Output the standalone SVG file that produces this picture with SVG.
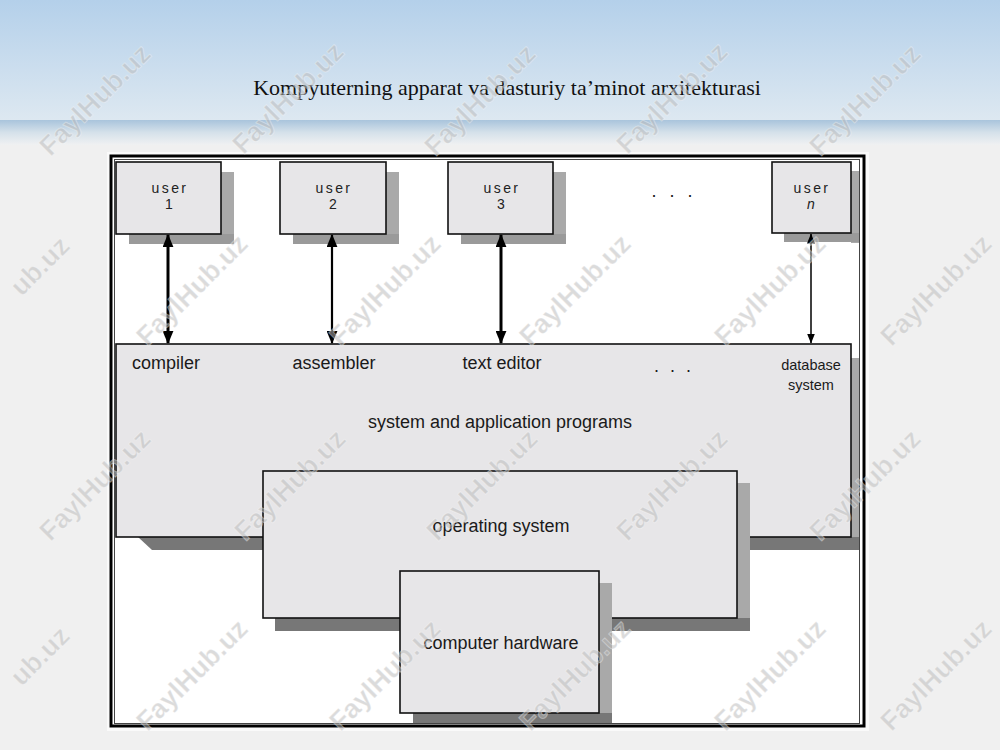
<svg xmlns="http://www.w3.org/2000/svg" width="1000" height="750" viewBox="0 0 1000 750">
<style>
.box{fill:#e7e6e8;stroke:#111;stroke-width:1.6}
.shb{fill:#777}
.shr{fill:#a9a9a9}
.lbl{font-family:"Liberation Sans",Arial,sans-serif;font-size:18px;fill:#1a1a1a;text-anchor:middle}
.usr{font-family:"Liberation Sans",Arial,sans-serif;font-size:14px;fill:#222;text-anchor:middle;letter-spacing:2.4px}
.title{font-family:"Liberation Serif","Times New Roman",serif;font-size:22px;fill:#111;text-anchor:middle}
.conn{stroke:#000;fill:none}
.wm{font-family:"Liberation Sans",Arial,sans-serif;font-size:27px;font-weight:bold;fill:#b8b8b8;fill-opacity:0.5;stroke:#fff;stroke-opacity:0.35;stroke-width:1;text-anchor:middle}
</style>
<defs>
<linearGradient id="sky" x1="0" y1="0" x2="0" y2="1">
<stop offset="0" stop-color="#b4d0ea"/>
<stop offset="1" stop-color="#dde8f1"/>
</linearGradient>
<linearGradient id="sea" x1="0" y1="0" x2="0" y2="1">
<stop offset="0" stop-color="#a9c4dc"/>
<stop offset="0.5" stop-color="#d5e1ea"/>
<stop offset="1" stop-color="#f0f1f2"/>
</linearGradient>
<clipPath id="inner"><rect x="115" y="160" width="744" height="563"/></clipPath>
<marker id="ah" viewBox="0 0 12 10" refX="11" refY="5" markerWidth="13" markerHeight="11" markerUnits="userSpaceOnUse" orient="auto-start-reverse"><path d="M0,0 L12,5 L0,10 z" fill="#000"/></marker>
<marker id="ahs" viewBox="0 0 10 8" refX="9.5" refY="4" markerWidth="10" markerHeight="8" markerUnits="userSpaceOnUse" orient="auto-start-reverse"><path d="M0,0 L10,4 L0,8 z" fill="#000"/></marker>
</defs>

<g id="background">
<rect x="0" y="0" width="1000" height="120" fill="url(#sky)"/>
<rect x="0" y="120" width="1000" height="25" fill="url(#sea)"/>
<rect x="0" y="145" width="1000" height="605" fill="#f0f0f0"/>
</g>

<text id="title" class="title" x="507" y="95">Kompyuterning apparat va dasturiy ta’minot arxitekturasi</text>

<g id="frame">
<rect x="107" y="152" width="762" height="579" fill="#fafafa"/>
<rect x="111" y="156" width="753" height="570" fill="#fff" stroke="#000" stroke-width="3"/>
<rect x="114.5" y="159.5" width="745" height="564" fill="#fff" stroke="#444" stroke-width="1"/>
</g>

<g id="user1">
<rect class="shr" x="221" y="172" width="13" height="72" clip-path="url(#inner)"/>
<rect class="shr" x="129" y="234" width="105" height="10" clip-path="url(#inner)" style="fill:#9a9a9a"/>
<rect class="box" x="116" y="162" width="105" height="72"/>
<text class="usr" x="170" y="193">user</text>
<text class="usr" x="170" y="209">1</text>
</g>

<g id="user2">
<rect class="shr" x="386" y="172" width="13" height="72" clip-path="url(#inner)"/>
<rect class="shr" x="293" y="234" width="106" height="10" style="fill:#9a9a9a"/>
<rect class="box" x="280" y="162" width="106" height="72"/>
<text class="usr" x="334" y="193">user</text>
<text class="usr" x="334" y="209">2</text>
</g>

<g id="user3">
<rect class="shr" x="553" y="172" width="13" height="72"/>
<rect class="shr" x="461" y="234" width="105" height="10" style="fill:#9a9a9a"/>
<rect class="box" x="448" y="162" width="105" height="72"/>
<text class="usr" x="502" y="193">user</text>
<text class="usr" x="502" y="209">3</text>
</g>

<g id="users-more">
<text class="lbl" x="674" y="197" style="letter-spacing:4px">. . .</text>
</g>

<g id="usern">
<rect class="shr" x="851" y="171" width="13" height="72" clip-path="url(#inner)"/>
<rect class="shr" x="784" y="233" width="80" height="9" clip-path="url(#inner)" style="fill:#9a9a9a"/>
<rect class="box" x="772" y="162" width="79" height="71"/>
<text class="usr" x="812" y="193">user</text>
<text class="usr" x="812" y="209" style="font-style:italic">n</text>
</g>

<g id="programs">
<rect class="shr" x="851" y="358" width="13" height="192" clip-path="url(#inner)"/>
<polygon class="shb" points="138,537 864,537 864,550 152,550" clip-path="url(#inner)"/>
<rect class="box" x="116" y="344" width="735" height="193"/>
<text class="lbl" x="166" y="369">compiler</text>
<text class="lbl" x="334" y="369">assembler</text>
<text class="lbl" x="502" y="369">text editor</text>
<text class="lbl" x="674" y="372" style="letter-spacing:3px">. . .</text>
<text class="lbl" x="811" y="370" style="font-size:14.5px">database</text>
<text class="lbl" x="811" y="390" style="font-size:14.5px">system</text>
<text class="lbl" x="500" y="428">system and application programs</text>
</g>

<g id="os">
<rect class="shr" x="737" y="483" width="13" height="148"/>
<rect class="shb" x="275" y="618" width="475" height="13"/>
<rect class="box" x="263" y="471" width="474" height="147"/>
<text class="lbl" x="501" y="532">operating system</text>
</g>

<g id="hardware">
<rect class="shr" x="599" y="583" width="13" height="140" clip-path="url(#inner)"/>
<rect class="shb" x="413" y="713" width="199" height="10" clip-path="url(#inner)"/>
<rect class="box" x="400" y="571" width="199" height="142"/>
<text class="lbl" x="501" y="649">computer hardware</text>
</g>

<g id="connectors">
<line class="conn" x1="168" y1="235" x2="168" y2="343" stroke-width="3" marker-start="url(#ah)" marker-end="url(#ah)"/>
<line class="conn" x1="332" y1="235" x2="332" y2="343" stroke-width="2.2" marker-start="url(#ah)" marker-end="url(#ah)"/>
<line class="conn" x1="501" y1="235" x2="501" y2="343" stroke-width="3" marker-start="url(#ah)" marker-end="url(#ah)"/>
<line class="conn" x1="811" y1="234" x2="811" y2="343" stroke-width="1.5" marker-start="url(#ahs)" marker-end="url(#ahs)"/>
</g>

<g id="watermarks">
<text class="wm" transform="translate(95,100) rotate(-45)" y="9">FaylHub.uz</text>
<text class="wm" transform="translate(288,98) rotate(-45)" y="9">FaylHub.uz</text>
<text class="wm" transform="translate(480,100) rotate(-45)" y="9">FaylHub.uz</text>
<text class="wm" transform="translate(672,98) rotate(-45)" y="9">FaylHub.uz</text>
<text class="wm" transform="translate(865,100) rotate(-45)" y="9">FaylHub.uz</text>
<text class="wm" transform="translate(40,266) rotate(-45)" y="9">ub.uz</text>
<text class="wm" transform="translate(192,290) rotate(-45)" y="9">FaylHub.uz</text>
<text class="wm" transform="translate(385,290) rotate(-45)" y="9">FaylHub.uz</text>
<text class="wm" transform="translate(575,290) rotate(-45)" y="9">FaylHub.uz</text>
<text class="wm" transform="translate(770,290) rotate(-45)" y="9">FaylHub.uz</text>
<text class="wm" transform="translate(936,290) rotate(-45)" y="9">FaylHub.uz</text>
<text class="wm" transform="translate(95,485) rotate(-45)" y="9">FaylHub.uz</text>
<text class="wm" transform="translate(290,485) rotate(-45)" y="9">FaylHub.uz</text>
<text class="wm" transform="translate(482,485) rotate(-45)" y="9">FaylHub.uz</text>
<text class="wm" transform="translate(672,485) rotate(-45)" y="9">FaylHub.uz</text>
<text class="wm" transform="translate(865,485) rotate(-45)" y="9">FaylHub.uz</text>
<text class="wm" transform="translate(40,656) rotate(-45)" y="9">ub.uz</text>
<text class="wm" transform="translate(192,675) rotate(-45)" y="9">FaylHub.uz</text>
<text class="wm" transform="translate(385,675) rotate(-45)" y="9">FaylHub.uz</text>
<text class="wm" transform="translate(575,675) rotate(-45)" y="9">FaylHub.uz</text>
<text class="wm" transform="translate(770,675) rotate(-45)" y="9">FaylHub.uz</text>
<text class="wm" transform="translate(936,675) rotate(-45)" y="9">FaylHub.uz</text>
</g>
</svg>
